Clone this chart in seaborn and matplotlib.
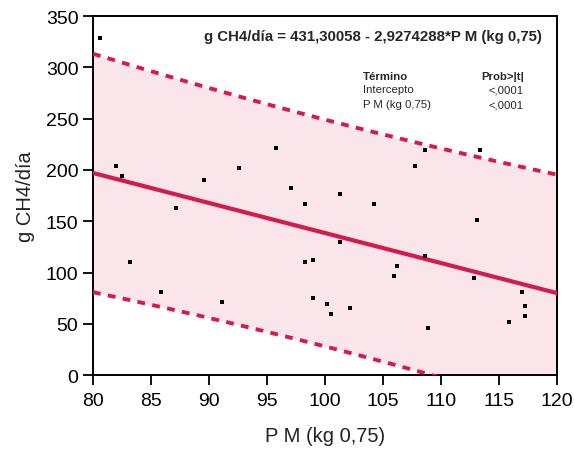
import numpy as np
import pandas as pd
import matplotlib
matplotlib.use("Agg")
import matplotlib.pyplot as plt
import seaborn as sns

# Data
pm = [80.6, 82.0, 82.5, 83.2, 85.9, 87.2, 89.6, 91.1, 92.6, 95.8, 97.1, 98.3,
      98.3, 99.0, 99.0, 100.2, 100.5, 101.3, 101.3, 102.2, 104.2, 106.0, 106.2,
      107.8, 108.6, 108.6, 108.9, 112.9, 113.1, 113.4, 115.9, 117.0, 117.3, 117.3]
ch4 = [328.6, 204.1, 194.3, 110.5, 80.6, 163.1, 190.4, 70.8, 202.1, 221.6, 182.6, 167.0,
       110.5, 112.4, 75.1, 68.9, 59.2, 176.8, 130.0, 65.0, 167.0, 96.5, 106.6,
       204.1, 219.7, 116.0, 45.5, 94.6, 151.4, 219.7, 51.4, 80.6, 66.9, 57.2]
intercept = 431.30058
slope = -2.9274288
rmse = 53.5          # residual SD estimated from the band width in the picture
t_crit = 2.037
x_ticks = [80, 85, 90, 95, 100, 105, 110, 115, 120]
y_ticks = [0, 50, 100, 150, 200, 250, 300, 350]

df = pd.DataFrame({"pm": pm, "ch4": ch4})

sns.set_theme(style="white")
plt.rcParams['font.family'] = ['Liberation Sans', 'DejaVu Sans']

fig = plt.figure(figsize=(5.74, 4.52), dpi=100)
ax = fig.add_axes([0.162, 0.168, 0.808, 0.794])

# 95% prediction interval
x = np.array(pm)
n = len(x)
xs = np.linspace(80, 120, 200)
fit = intercept + slope * xs
sxx = np.sum((x - x.mean()) ** 2)
half = t_crit * rmse * np.sqrt(1 + 1 / n + (xs - x.mean()) ** 2 / sxx)
lo = fit - half
hi = fit + half

red = "#d41c4c"
ax.fill_between(xs, lo, hi, color="#f9e5ea", zorder=1, lw=0)
sns.lineplot(x=xs, y=fit, ax=ax, color=red, lw=3.0, zorder=3)
sns.lineplot(x=xs, y=hi, ax=ax, color=red, lw=2.8, zorder=3)
sns.lineplot(x=xs, y=lo, ax=ax, color=red, lw=2.8, zorder=3)
for l in ax.lines[1:]:
    l.set_linestyle((0, (2.0, 1.9)))
sns.scatterplot(data=df, x="pm", y="ch4", ax=ax, color="black", marker="s", s=9,
                linewidth=0, zorder=4)

ax.set_xlim(80, 120)
ax.set_ylim(0, 350)
ax.set_xticks(x_ticks)
ax.set_yticks(y_ticks)
ax.tick_params(axis="both", which="both", direction="out", length=7.5, width=1.3,
               labelsize=14, colors="black", left=True, bottom=True, pad=3)
ax.tick_params(axis="x", pad=5)
for sp in ax.spines.values():
    sp.set_color("black")
    sp.set_linewidth(1.4)
ax.set_xlabel("P M (kg 0,75)", fontsize=14.5, labelpad=12, color="#222222")
ax.set_ylabel("g CH4/día", fontsize=14.5, labelpad=8, color="#222222")

ax.text(0.968, 0.945, "g CH4/día = 431,30058 - 2,9274288*P M (kg 0,75)",
        transform=ax.transAxes, ha="right", va="center", fontsize=10.8,
        fontweight="bold")
fs = 8.2
ax.text(0.582, 0.834, "Término", transform=ax.transAxes, fontsize=fs, fontweight="bold", va="center")
ax.text(0.838, 0.834, "Prob>|t|", transform=ax.transAxes, fontsize=fs, fontweight="bold", va="center")
ax.text(0.582, 0.797, "Intercepto", transform=ax.transAxes, fontsize=fs, va="center")
ax.text(0.582, 0.755, "P M (kg 0,75)", transform=ax.transAxes, fontsize=fs, va="center")
ax.text(0.928, 0.797, "<,0001", transform=ax.transAxes, fontsize=fs, va="center", ha="right")
ax.text(0.928, 0.755, "<,0001", transform=ax.transAxes, fontsize=fs, va="center", ha="right")

fig.savefig("out.png", dpi=100)
